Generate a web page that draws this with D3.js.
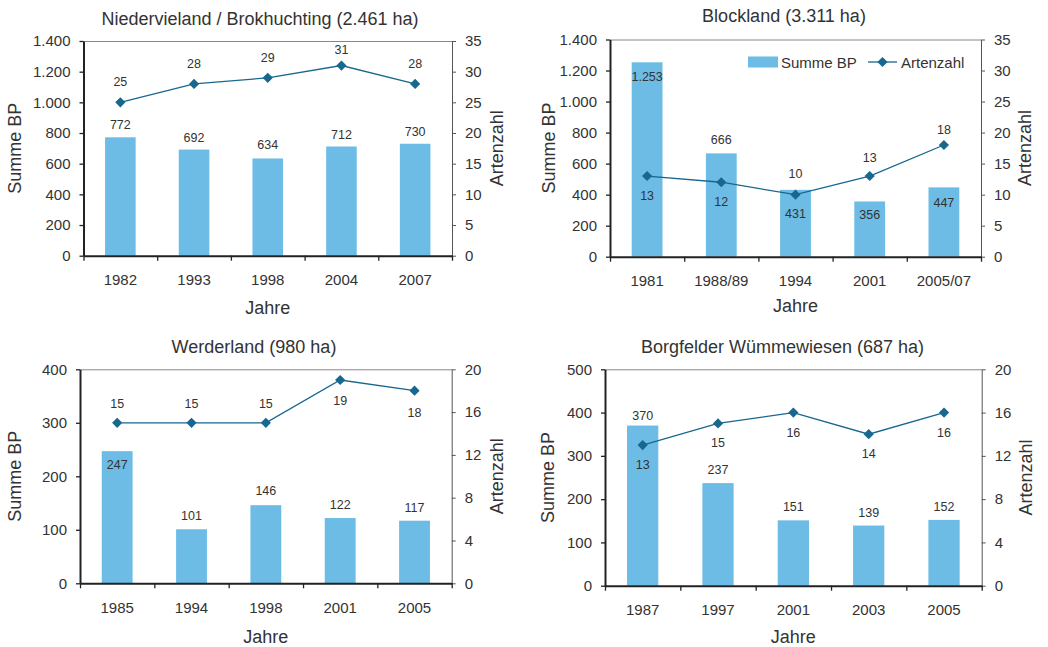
<!DOCTYPE html>
<html>
<head>
<meta charset="utf-8">
<script src="https://cdn.jsdelivr.net/npm/d3@7"></script>
<style>
  body { margin: 0; background: #fff; }
  svg { display: block; font-family: "Liberation Sans", Arial, sans-serif; }
  text { fill: #333; }
</style>
</head>
<body>
<svg id="chart" width="1048" height="647"></svg>
<script>
// Niedervieland / Brokhuchting
const nieYears = ["1982", "1993", "1998", "2004", "2007"]
const nieBP = [772, 692, 634, 712, 730]
const nieArten = [25, 28, 29, 31, 28]
const nieBpTicks = [0, 200, 400, 600, 800, 1000, 1200, 1400]
const nieArtenTicks = [0, 5, 10, 15, 20, 25, 30, 35]

// Blockland
const bloYears = ["1981", "1988/89", "1994", "2001", "2005/07"]
const bloBP = [1253, 666, 431, 356, 447]
const bloArten = [13, 12, 10, 13, 18]
const bloBpTicks = [0, 200, 400, 600, 800, 1000, 1200, 1400]
const bloArtenTicks = [0, 5, 10, 15, 20, 25, 30, 35]

// Werderland
const werYears = ["1985", "1994", "1998", "2001", "2005"]
const werBP = [247, 101, 146, 122, 117]
const werArten = [15, 15, 15, 19, 18]
const werBpTicks = [0, 100, 200, 300, 400]
const werArtenTicks = [0, 4, 8, 12, 16, 20]

// Borgfelder Wümmewiesen
const borYears = ["1987", "1997", "2001", "2003", "2005"]
const borBP = [370, 237, 151, 139, 152]
const borArten = [13, 15, 16, 14, 16]
const borBpTicks = [0, 100, 200, 300, 400, 500]
const borArtenTicks = [0, 4, 8, 12, 16, 20]

const barColor = "#6cbce6"
const lineColor = "#17678f"
const de = d3.formatLocale({decimal: ",", thousands: ".", grouping: [3], currency: ["", "€"]})
const fmt = de.format(",d")

const svg = d3.select("#chart")

// label offsets in px relative to the mark (negative = above)
drawPanel({
  title: "Niedervieland / Brokhuchting (2.461 ha)", titleX: 260, titleY: 19,
  left: 83.5, right: 452, top: 41, bottom: 255.7, jahreY: 308,
  years: nieYears, bp: nieBP, arten: nieArten, bpTicks: nieBpTicks, artenTicks: nieArtenTicks,
  barDy: [-12, -12, -13, -12, -12], lineDy: [-20, -20, -20, -16, -20],
  yLabelX: 15, y2LabelX: 497
})
drawPanel({
  title: "Blockland (3.311 ha)", titleX: 784, titleY: 16,
  left: 610, right: 981, top: 39.5, bottom: 256.7, jahreY: 306,
  years: bloYears, bp: bloBP, arten: bloArten, bpTicks: bloBpTicks, artenTicks: bloArtenTicks,
  barDy: [15, -13, 24, 14, 16], lineDy: [20, 20, -21, -18, -15],
  yLabelX: 549, y2LabelX: 1025, legend: true
})
drawPanel({
  title: "Werderland (980 ha)", titleX: 254, titleY: 346.7,
  left: 80, right: 451.7, top: 369.3, bottom: 583.3, jahreY: 636.7,
  years: werYears, bp: werBP, arten: werArten, bpTicks: werBpTicks, artenTicks: werArtenTicks,
  barDy: [14, -13, -14, -13, -13], lineDy: [-19, -19, -19, 21, 22],
  yLabelX: 15, y2LabelX: 497
})
drawPanel({
  title: "Borgfelder Wümmewiesen (687 ha)", titleX: 782.5, titleY: 346.7,
  left: 605, right: 981.7, top: 369.3, bottom: 585.7, jahreY: 636.7,
  years: borYears, bp: borBP, arten: borArten, bpTicks: borBpTicks, artenTicks: borArtenTicks,
  barDy: [-10, -13, -13, -13, -13], lineDy: [20, 20, 20, 20, 20],
  yLabelX: 548, y2LabelX: 1026
})

function drawPanel(c){
  let g = svg.append("g")

  let x = d3.scaleBand().domain(c.years).range([c.left, c.right]).paddingInner(0.585).paddingOuter(0.2925)
  let y = d3.scaleLinear().domain([0, d3.max(c.bpTicks)]).range([c.bottom, c.top])
  let y2 = d3.scaleLinear().domain([0, d3.max(c.artenTicks)]).range([c.bottom, c.top])
  let cx = d => x(d) + x.bandwidth() / 2

  // top border
  g.append("line")
    .attr("x1", c.left).attr("x2", c.right)
    .attr("y1", c.top + 0.5).attr("y2", c.top + 0.5)
    .attr("stroke", "#888").attr("stroke-width", 1)

  // bars
  g.selectAll(".bar").data(c.bp).join("rect")
    .attr("x", (d, i) => x(c.years[i]))
    .attr("y", d => y(d))
    .attr("width", x.bandwidth())
    .attr("height", d => c.bottom - y(d))
    .attr("fill", barColor)

  // right axis
  let ar = g.append("g").attr("transform", `translate(${c.right},0)`)
    .call(d3.axisRight(y2).tickValues(c.artenTicks).tickSize(4).tickSizeOuter(0).tickPadding(9))
  ar.select(".domain").attr("stroke", "#555")
  ar.selectAll(".tick line").attr("stroke", "#555")
  ar.selectAll(".tick text").attr("font-size", 15).attr("fill", "#333")

  // left axis
  let al = g.append("g").attr("transform", `translate(${c.left},0)`)
    .call(d3.axisLeft(y).tickValues(c.bpTicks).tickFormat(fmt).tickSize(4).tickSizeOuter(0).tickPadding(9))
  al.select(".domain").attr("stroke", "#222").attr("stroke-width", 2)
  al.selectAll(".tick line").attr("stroke", "#222").attr("stroke-width", 1.3)
  al.selectAll(".tick text").attr("font-size", 15).attr("fill", "#333")

  // bottom axis: tick marks at category borders, labels at centres
  let xb = d3.scaleLinear().domain([0, c.years.length]).range([c.left, c.right])
  let ab = g.append("g").attr("transform", `translate(0,${c.bottom})`)
    .call(d3.axisBottom(xb).tickValues(d3.range(c.years.length + 1)).tickFormat("").tickSize(5).tickSizeOuter(0))
  ab.select(".domain").attr("stroke", "#222").attr("stroke-width", 2)
  ab.selectAll(".tick line").attr("stroke", "#222").attr("stroke-width", 1.3)

  g.selectAll(".xlab").data(c.years).join("text")
    .attr("x", d => cx(d))
    .attr("y", c.bottom + 24)
    .attr("text-anchor", "middle")
    .attr("dominant-baseline", "central")
    .attr("font-size", 15)
    .text(d => d)

  // line
  let line = d3.line().x((d, i) => cx(c.years[i])).y(d => y2(d))
  g.append("path")
    .attr("d", line(c.arten))
    .attr("fill", "none")
    .attr("stroke", lineColor)
    .attr("stroke-width", 1.3)

  let diamond = d3.symbol(d3.symbolSquare, 52)
  g.selectAll(".pt").data(c.arten).join("path")
    .attr("d", diamond)
    .attr("transform", (d, i) => `translate(${cx(c.years[i])},${y2(d)}) rotate(45)`)
    .attr("fill", lineColor)

  // data labels
  g.selectAll(".blab").data(c.bp).join("text")
    .attr("x", (d, i) => cx(c.years[i]))
    .attr("y", (d, i) => y(d) + c.barDy[i])
    .attr("text-anchor", "middle")
    .attr("dominant-baseline", "central")
    .attr("font-size", 12.5)
    .text(d => fmt(d))

  g.selectAll(".llab").data(c.arten).join("text")
    .attr("x", (d, i) => cx(c.years[i]))
    .attr("y", (d, i) => y2(d) + c.lineDy[i])
    .attr("text-anchor", "middle")
    .attr("dominant-baseline", "central")
    .attr("font-size", 12.5)
    .text(d => d)

  // titles
  g.append("text")
    .attr("x", c.titleX).attr("y", c.titleY)
    .attr("text-anchor", "middle").attr("dominant-baseline", "central")
    .attr("font-size", 18)
    .text(c.title)

  g.append("text")
    .attr("x", (c.left + c.right) / 2).attr("y", c.jahreY)
    .attr("text-anchor", "middle").attr("dominant-baseline", "central")
    .attr("font-size", 18)
    .text("Jahre")

  let midY = (c.top + c.bottom) / 2
  g.append("text")
    .attr("transform", `translate(${c.yLabelX},${midY}) rotate(-90)`)
    .attr("text-anchor", "middle").attr("dominant-baseline", "central")
    .attr("font-size", 18)
    .text("Summe BP")

  g.append("text")
    .attr("transform", `translate(${c.y2LabelX},${midY}) rotate(-90)`)
    .attr("text-anchor", "middle").attr("dominant-baseline", "central")
    .attr("font-size", 18)
    .text("Artenzahl")

  if (c.legend) {
    let lg = g.append("g").attr("transform", `translate(748,62)`)
    lg.append("rect").attr("x", 0).attr("y", -5.5).attr("width", 30).attr("height", 11).attr("fill", barColor)
    lg.append("text").attr("x", 33).attr("y", 0).attr("dominant-baseline", "central").attr("font-size", 15).text("Summe BP")
    lg.append("line").attr("x1", 120).attr("x2", 149).attr("y1", 0).attr("y2", 0)
      .attr("stroke", lineColor).attr("stroke-width", 1.3)
    lg.append("path").attr("d", diamond).attr("transform", "translate(134.5,0) rotate(45)").attr("fill", lineColor)
    lg.append("text").attr("x", 153).attr("y", 0).attr("dominant-baseline", "central").attr("font-size", 15).text("Artenzahl")
  }
}
</script>
</body>
</html>
